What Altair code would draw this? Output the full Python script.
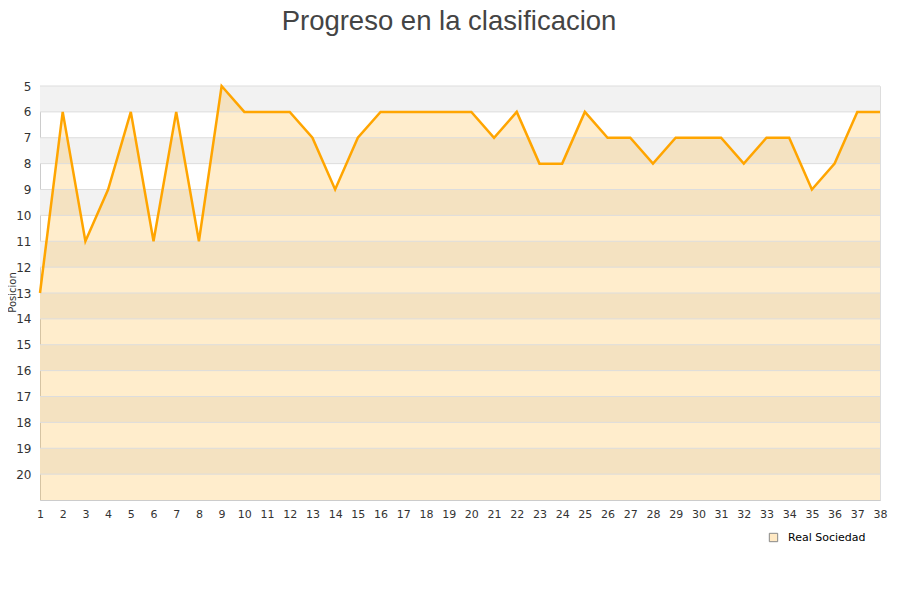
import altair as alt
import pandas as pd

jornadas = list(range(1, 39))
posiciones = [13, 6, 11, 9, 6, 11, 6, 11, 5, 6, 6, 6, 7, 9, 7, 6, 6, 6, 6, 6,
              7, 6, 8, 8, 6, 7, 7, 8, 7, 7, 7, 8, 7, 7, 9, 8, 6, 6]
equipo = "Real Sociedad"
band_starts = [5, 7, 9, 11, 13, 15, 17, 19]
grid_values = list(range(5, 21))

df = pd.DataFrame({"jornada": jornadas, "pos": posiciones, "equipo": equipo})
bands = pd.DataFrame({"y": band_starts, "y2": [b + 1 for b in band_starts]})
grid = pd.DataFrame({"y": grid_values})

W, H = 840, 414
xscale = alt.Scale(domain=[1, 38], nice=False, zero=False)
yscale = alt.Scale(domain=[5, 21], reverse=True, nice=False, zero=False)

x_axis = alt.Axis(values=jornadas, title=None, grid=False, ticks=False,
                  labelPadding=8, labelFontSize=11, labelColor="#333",
                  labelFont="DejaVu Sans", domainColor="#ccc",
                  labelFlush=False, labelOverlap=False, labelBound=False)
y_axis = alt.Axis(values=grid_values, title="Posicion",
                  grid=False, ticks=False, labelOverlap=False, labelBound=False,
                  labelPadding=9, labelFontSize=12, labelColor="#333",
                  labelFont="DejaVu Sans", domainColor="#ccc",
                  titleFontSize=10, titleFontWeight="normal",
                  titleFont="DejaVu Sans", titleColor="#333",
                  titleX=-27.5, titleY=H / 2 - 1, titleAngle=-90,
                  titleBaseline="middle", titleAlign="center")

band_layer = alt.Chart(bands).mark_rect(color="#f2f2f2").encode(
    y=alt.Y("y:Q", scale=yscale, axis=y_axis),
    y2="y2:Q",
    x=alt.value(0),
    x2=alt.value(W),
)

area = alt.Chart(df).mark_area(opacity=0.2, line=False, color="#ffa500").encode(
    x=alt.X("jornada:Q", scale=xscale, axis=x_axis),
    y=alt.Y("pos:Q", scale=yscale, axis=y_axis),
    y2=alt.datum(21),
)

legend_layer = alt.Chart(df.head(1)).mark_point(
    shape="square", filled=True, opacity=0, stroke="#888", strokeWidth=1
).encode(
    x=alt.X("jornada:Q", scale=xscale, axis=x_axis),
    y=alt.Y("pos:Q", scale=yscale, axis=y_axis),
    fill=alt.Fill("equipo:N", scale=alt.Scale(range=["#ffe9c4"]),
                  legend=alt.Legend(orient="none", legendX=728, legendY=446,
                                    title=None, symbolType="square",
                                    symbolSize=70, symbolOpacity=1,
                                    symbolStrokeColor="#888",
                                    symbolStrokeWidth=1,
                                    labelOffset=9,
                                    labelFontSize=11, labelFont="DejaVu Sans",
                                    labelColor="#000")),
)

grid_layer = alt.Chart(grid).mark_rule(color="#ddd", strokeWidth=1).encode(
    y=alt.Y("y:Q", scale=yscale, axis=y_axis),
)

line = alt.Chart(df).mark_line(color="#ffa500", strokeWidth=2.5).encode(
    x=alt.X("jornada:Q", scale=xscale, axis=x_axis),
    y=alt.Y("pos:Q", scale=yscale, axis=y_axis),
)

chart = alt.layer(band_layer, area, grid_layer, line, legend_layer).properties(
    width=W, height=H,
    title=alt.TitleParams("Progreso en la clasificacion", fontSize=27.5,
                          font="Liberation Sans", fontWeight="normal",
                          color="#444", anchor="middle", offset=45, dx=-11),
    autosize=alt.AutoSizeParams(type="none"),
    padding={"left": 32, "top": 78, "right": 12, "bottom": 80},
).configure_view(stroke="#ddd", strokeWidth=1).configure_axis(
    labelOverlap=False
)

chart.save("out.html", embed_options={"renderer": "svg", "actions": False})
